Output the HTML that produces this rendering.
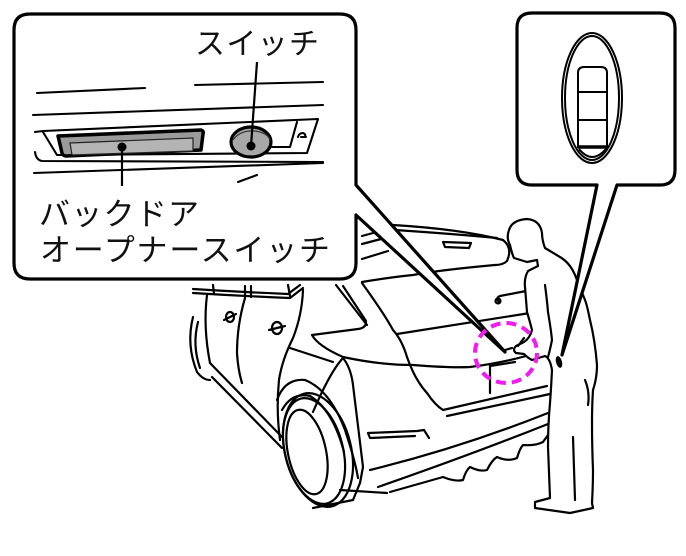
<!DOCTYPE html>
<html><head><meta charset="utf-8">
<style>
html,body{margin:0;padding:0;background:#fff;}
svg{display:block;}
text{font-family:"Liberation Sans","Noto Sans CJK JP",sans-serif;fill:#111;}
</style></head>
<body>
<svg width="686" height="556" viewBox="0 0 686 556" xmlns="http://www.w3.org/2000/svg">
<g fill="none" stroke="#000" stroke-width="2.2" stroke-linecap="round" stroke-linejoin="round">
  <!-- raised hatch -->
  <path d="M393,225 Q460,229 503,240"/>
  <path d="M395,230 Q455,234 497,238"/>
  <path d="M503,240 Q513,248 507,261 Q503,265 495,265"/>
  <path d="M495,265 Q440,270 413,275 Q385,278 362,282"/>
  <path d="M443,242 L471,243 L469,248 L445,247 Z"/>
  <path d="M362,236 L373,233 M362,244 L381,239 M362,259 L388,251"/>
  <!-- C pillar / taillight -->
  <path d="M336,285 L367,325"/>
  <path d="M343,286 L366,321"/>
  <path d="M366,322 Q366,328 358,329 L312,335 Q318,346 343,357 Q380,365 413,365 Q450,368 470,367 Q510,362 546,350"/>
  <path d="M362,283 Q385,315 393,330 Q402,340 407,357 Q415,380 427,393 Q435,405 443,410 L547,386"/>
  <path d="M447,416 L550,394"/>
  <path d="M397,334 L530,313"/>
  <path d="M490,366 L490,393 M490,366 L515,362"/>
  <!-- handle on hatch -->
  <path d="M499,302 Q495,298 500,296 L526,291"/>
  <circle cx="498" cy="301" r="2.5"/>
  <!-- quarter / bumper corner -->
  <path d="M343,358 Q351,368 353,385 L363,467 L360,483"/>
  <path d="M343,358 Q330,372 313,412"/>
  <!-- wheel -->
  <ellipse cx="318" cy="450" rx="33" ry="58" transform="rotate(-14 318 450)"/>
  <ellipse cx="314" cy="451" rx="29" ry="54" transform="rotate(-14 314 451)"/>
  <ellipse cx="307" cy="452" rx="19" ry="43" transform="rotate(-12 307 452)"/>
  <path d="M313,508 L353,500 L360,483"/>
  <path d="M277,400 Q285,378 305,380 Q330,390 345,430 Q355,460 358,478"/>
  <path d="M282,410 Q292,392 310,396 Q333,410 344,452"/>
  <!-- reflector -->
  <path d="M368,433 L417,431 L424,430 L429,438 M370,438 L415,436 M368,433 L370,438"/>
  <!-- lower bumper -->
  <path d="M370,470 Q460,448 548,413"/>
  <path d="M378,487 Q470,455 548,424"/>
  <path d="M390,492 L443,477 Q455,482 463,480 Q466,470 470,467 Q480,472 487,470 Q492,460 497,457 Q508,462 517,458 Q520,448 523,445 Q535,446 543,442 L548,435"/>
  <path d="M340,490 L387,493"/>
  <!-- side body -->
  <path d="M193,293 Q240,296 290,298 L303,288"/>
  <path d="M193,289 Q240,292 288,294 L300,285"/>
  <path d="M213,285 L214,294 M245,286 L245,297 M251,286 L251,297 M288,285 L290,296"/>
  <path d="M207,295 Q203,327 210,363"/>
  <path d="M245,298 Q237,325 237,353 Q238,370 242,383"/>
  <path d="M303,290 Q302,315 293,338 Q282,360 279,380 Q276,410 280,440"/>
  <path d="M193,317 Q186,345 197,372 Q203,380 210,380"/>
  <path d="M198,322 Q192,345 200,368"/>
  <path d="M210,363 L282,437"/>
  <path d="M212,377 L282,448"/>
  <ellipse cx="230" cy="317" rx="4" ry="5"/>
  <path d="M224,320 L236,314"/>
  <ellipse cx="277" cy="328" rx="5" ry="6"/>
  <path d="M269,330 L285,326"/>
  <path d="M290,348 L333,362"/>
</g>

<!-- person -->
<g fill="#fff" stroke="#000" stroke-width="2.2" stroke-linejoin="round" stroke-linecap="round">
  <path d="M545,248 Q542,240 542,233 Q540,220 527,219 Q512,220 509,230 Q506,238 510,245 Q512,254 514,258 L527,262 L537,260 L538,266 L528,271 Q524,278 525,287 Q526,300 527,312 Q530,322 532,330 Q530,338 524,342 L516,346 Q512,350 516,353 L524,354 Q528,358 532,360 L545,356 Q550,358 552,370 Q551,390 550,403 Q548,425 548,447 Q549,475 550,498 L535,502 L535,508 L570,513 L593,508 L592,503 Q593,485 593,470 Q592,445 592,423 Q592,405 593,390 Q597,378 597,365 Q595,340 590,320 Q587,305 585,300 Q579,285 575,275 Q570,263 560,257 Z"/>
  <path fill="none" d="M545,285 Q547,300 548,312 Q551,330 552,340 Q550,350 548,357"/>
  <path fill="none" d="M573,437 L575,500"/>
  <path fill="none" d="M585,380 Q590,392 588,405"/>
  <path fill="none" d="M512,348 L505,350 M518,346 L524,338"/>
</g>
<ellipse cx="559" cy="362" rx="3" ry="6" transform="rotate(-15 559 362)" fill="#000"/>

<!-- left callout -->
<path d="M30,14 H340 Q356,14 356,30 V185 L505,352 L356,215 V263 Q356,279 340,279 H30 Q14,279 14,263 V30 Q14,14 30,14 Z" fill="#fff" stroke="#000" stroke-width="3.2" stroke-linejoin="round"/>
<g fill="none" stroke="#000" stroke-width="2.1" stroke-linecap="round" stroke-linejoin="round">
  <path d="M37,93 L145,88"/>
  <path d="M195,85 L323,82"/>
  <path d="M33,115 L323,105"/>
  <path d="M35,132 L43,131 L318,119 L307,153 L57,155 L43,132"/>
  <path d="M297,122 L290,147 L270,147"/>
  <path d="M35,152 Q36,160 42,161 L323,162"/>
  <path d="M34,173 L323,163"/>
  <path d="M238,182 L257,175"/>
  <path d="M298,137 Q299,133 303,133 Q306,134 305,137 M301,137 L306,137"/>
</g>
<!-- gray opener bar -->
<path d="M58,136 L201,130 Q204,131 203,134 L201,150 L66,156 Q63,156 62,153 Z" fill="#9a9a9a" stroke="#000" stroke-width="3.5" stroke-linejoin="round"/>
<path d="M70,143 L193,138 L193,151 L72,155 Z" fill="#b4b4b4" stroke="#222" stroke-width="1.2"/>
<circle cx="122" cy="147" r="4.5" fill="#000"/>
<path d="M122,147 L122,186" stroke="#000" stroke-width="2.2"/>
<!-- knob -->
<ellipse cx="251" cy="142" rx="20" ry="15" fill="#a8a8a8" stroke="#000" stroke-width="3.2"/>
<path d="M233,140 Q240,130 255,131 Q268,133 270,140" fill="none" stroke="#333" stroke-width="1.2"/>
<circle cx="251" cy="146" r="4.5" fill="#000"/>
<path d="M251,146 L257,62" stroke="#000" stroke-width="2.2"/>

<text x="195" y="54" font-size="30" textLength="124" lengthAdjust="spacing">スイッチ</text>
<text x="39" y="225" font-size="31" textLength="160" lengthAdjust="spacing">バックドア</text>
<text x="40" y="261" font-size="31" textLength="290" lengthAdjust="spacing">オープナースイッチ</text>

<!-- right callout -->
<path d="M532,13 H660 Q675,13 675,28 V170 Q675,185 660,185 H617 L562,355 L597,185 H532 Q517,185 517,170 V28 Q517,13 532,13 Z" fill="#fff" stroke="#000" stroke-width="3.2" stroke-linejoin="round"/>
<g fill="none" stroke="#000" stroke-width="2">
  <ellipse cx="592" cy="98" rx="30" ry="65"/>
  <ellipse cx="592" cy="98" rx="27" ry="62"/>
  <path d="M578,148 L578,73 Q578,67 584,67 L601,67 Q607,67 607,73 L607,148"/>
  <path d="M578,92 L607,92 M578,120 L607,120"/>
  <path d="M579,149 Q592,165 606,149"/>
</g>
<path d="M578,147 L607,147" stroke="#000" stroke-width="3.5"/>

<!-- magenta dashed circle -->
<ellipse cx="506" cy="353" rx="31" ry="30" fill="none" stroke="#f01cf0" stroke-width="4" stroke-dasharray="10 6"/>
</svg>
</body></html>
